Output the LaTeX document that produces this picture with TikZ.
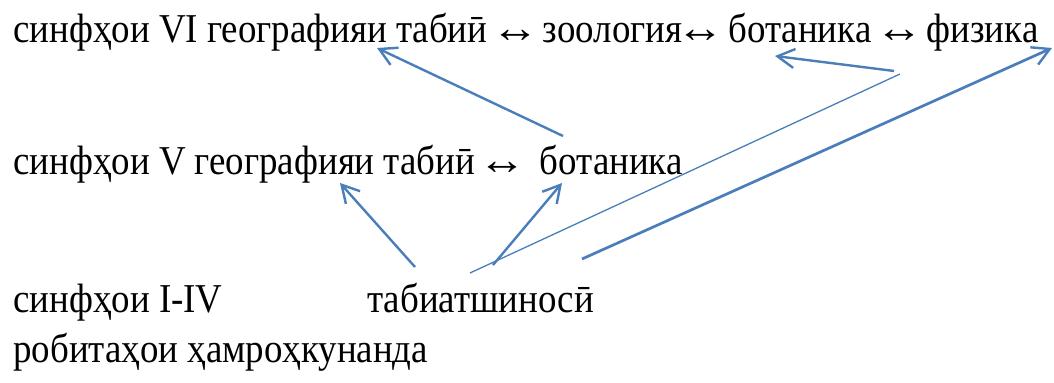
\documentclass[tikz,border=0pt]{standalone}
\usepackage{graphicx}
\usepackage{fontspec}
\setmainfont[FakeStretch=0.9]{Liberation Serif}
\usetikzlibrary{arrows.meta}
\definecolor{lineblue}{RGB}{74,126,187}
\newsavebox{\myarrbox}
\newcommand{\lrsym}{\sbox{\myarrbox}{↔}\makebox[\wd\myarrbox][c]{\scalebox{1.3}[1.05]{↔}}}
\begin{document}
\begin{tikzpicture}[x=0.5pt,y=-0.5pt,
  txt/.style={anchor=base west,inner sep=0pt,font=\fontsize{20.5pt}{24pt}\selectfont},
  conn/.style={draw=lineblue,line width=1.2pt,-{Straight Barb[length=8.5pt,width=9.5pt,line width=1.2pt]}},
  plain/.style={draw=lineblue,line width=0.65pt}]
\useasboundingbox (0,0) rectangle (1054,383);
\node[txt] (l1) at (13,43) {синфҳои VI географияи табиӣ \lrsym{} зоология\lrsym{} ботаника \lrsym{} физика};
\node[txt] (l2) at (13,175) {синфҳои V географияи табиӣ \lrsym\ \ ботаника};
\node[txt] (l3a) at (13,313) {синфҳои I-IV};
\node[txt] (l3b) at (367,313) {табиатшиносӣ};
\node[txt] (l4) at (13,363) {робитаҳои ҳамроҳкунанда};
% endpoints
\coordinate (a1s) at (563,136); \coordinate (a1e) at (377,48);
\coordinate (a2s) at (894,71);  \coordinate (a2e) at (775,56);
\coordinate (l3s) at (470,273); \coordinate (l3e) at (900,74);
\coordinate (a4s) at (415,267); \coordinate (a4e) at (340,183);
\coordinate (a5s) at (493,265); \coordinate (a5e) at (562,183);
\coordinate (a6s) at (582,259); \coordinate (a6e) at (1052,48);
\draw[conn] (a1s) -- (a1e);
\draw[conn] (a2s) -- (a2e);
\draw[plain] (l3s) -- (l3e);
\draw[conn] (a4s) -- (a4e);
\draw[conn] (a5s) -- (a5e);
\draw[conn,line width=1.35pt] (a6s) -- (a6e);
\end{tikzpicture}
\end{document}
